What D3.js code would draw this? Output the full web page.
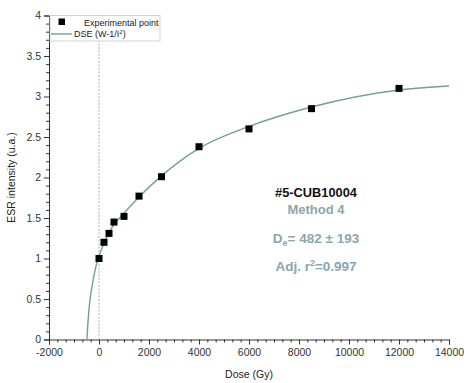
<!DOCTYPE html>
<html>
<head>
<meta charset="utf-8">
<script src="https://cdn.jsdelivr.net/npm/d3@7"></script>
<style>
  body { margin: 0; background: #fff; }
  text { font-family: "Liberation Sans", Arial, sans-serif; }
</style>
</head>
<body>
<div id="chart"></div>
<script>
// experimental points
var doses = [0, 200, 400, 600, 1000, 1600, 2500, 4000, 6000, 8500, 12000];
var intensities = [1.0, 1.20, 1.31, 1.45, 1.52, 1.77, 2.01, 2.38, 2.60, 2.85, 3.10];

// fitted DSE curve
var fitDoses = [-482, -455, -420, -360, -253, -133, 0, 200, 400, 600, 1000, 1600, 2500, 4000, 6000, 8500, 12000, 14000];
var fitValues = [0, 0.15, 0.30, 0.49, 0.70, 0.89, 1.03, 1.19, 1.32, 1.42, 1.56, 1.76, 2.02, 2.36, 2.63, 2.87, 3.08, 3.13];

var xTicks = [-2000, 0, 2000, 4000, 6000, 8000, 10000, 12000, 14000];
var yTicks = [0, 0.5, 1, 1.5, 2, 2.5, 3, 3.5, 4];

var svgWidth = 468, svgHeight = 383;
var margin = {top: 15.5, right: 19, bottom: 43.5, left: 49},
    width = svgWidth - margin.left - margin.right,
    height = svgHeight - margin.top - margin.bottom;

var svg = d3.select('#chart').append('svg')
    .attr('width', svgWidth)
    .attr('height', svgHeight);
var g = svg.append('g')
    .attr('transform', `translate(${margin.left}, ${margin.top})`);

var x = d3.scaleLinear().domain([-2000, 14000]).range([0, width]);
var y = d3.scaleLinear().domain([0, 4]).range([height, 0]);

var axisColor = '#333';
var fitColor = '#6e9fa3';
var noteColor = '#8aa6b0';

// minor ticks
var xMinor = d3.range(-2000, 14001, 2000 / 6).filter(d => Math.abs(d / 2000 - Math.round(d / 2000)) > 1e-6);
var yMinor = d3.range(0, 4.001, 0.1).filter(d => Math.abs(d * 2 - Math.round(d * 2)) > 1e-6);

var xMinorAxis = g.append('g')
    .attr('transform', `translate(0, ${height})`)
    .call(d3.axisBottom(x).tickValues(xMinor).tickSize(3).tickFormat(''));
var yMinorAxis = g.append('g')
    .call(d3.axisLeft(y).tickValues(yMinor).tickSize(3).tickFormat(''));

var xAxis = g.append('g')
    .attr('transform', `translate(0, ${height})`)
    .call(d3.axisBottom(x).tickValues(xTicks).tickSize(5).tickPadding(4).tickFormat(d => String(d)));
var yAxis = g.append('g')
    .call(d3.axisLeft(y).tickValues(yTicks).tickSize(5).tickPadding(3).tickFormat(d => String(d)));

[xMinorAxis, yMinorAxis, xAxis, yAxis].forEach(function(a) {
    a.selectAll('path').attr('stroke', axisColor).attr('stroke-width', 1);
    a.selectAll('line').attr('stroke', axisColor);
    a.selectAll('text').attr('fill', '#333').attr('font-size', '10.5px')
        .style('font-family', '"Liberation Sans", Arial, sans-serif');
});
xMinorAxis.select('path').remove();
yMinorAxis.select('path').remove();

// dashed line at zero dose
g.append('line')
    .attr('x1', x(0)).attr('x2', x(0))
    .attr('y1', 0).attr('y2', height)
    .attr('stroke', '#999')
    .attr('stroke-width', 0.8)
    .attr('stroke-dasharray', '2,1.5');

// fitted curve
var line = d3.line()
    .x(d => x(d[0]))
    .y(d => y(d[1]))
    .curve(d3.curveMonotoneX);
g.append('path')
    .datum(d3.zip(fitDoses, fitValues))
    .attr('fill', 'none')
    .attr('stroke', fitColor)
    .attr('stroke-width', 1.4)
    .attr('d', line);

// points
var s = 7;
g.selectAll('.pt')
    .data(d3.zip(doses, intensities))
    .enter()
    .append('rect')
    .classed('pt', true)
    .attr('x', d => x(d[0]) - s / 2)
    .attr('y', d => y(d[1]) - s / 2)
    .attr('width', s)
    .attr('height', s)
    .attr('fill', '#000');

// legend
var legend = g.append('g');
legend.append('rect')
    .attr('x', 1).attr('y', 0)
    .attr('width', 110).attr('height', 25.5)
    .attr('fill', '#fff')
    .attr('stroke', '#c8c8c8')
    .attr('stroke-width', 0.8);
legend.append('rect')
    .attr('x', 9.5).attr('y', 3)
    .attr('width', 6.5).attr('height', 6.5)
    .attr('fill', '#000');
legend.append('text')
    .attr('x', 35).attr('y', 10)
    .attr('font-size', '9px').attr('fill', '#222')
    .text('Experimental point');
legend.append('line')
    .attr('x1', 2).attr('x2', 23)
    .attr('y1', 18.5).attr('y2', 18.5)
    .attr('stroke', fitColor)
    .attr('stroke-width', 1.4);
var dse = legend.append('text')
    .attr('x', 25).attr('y', 21.5)
    .attr('font-size', '9px').attr('fill', '#222');
dse.append('tspan').text('DSE (W-1/I');
dse.append('tspan').attr('font-size', '6px').attr('dy', -3.5).text('2');
dse.append('tspan').attr('dy', 3.5).text(')');

// annotation
var cx = 316 - margin.left;
g.append('text')
    .attr('x', cx).attr('y', 197 - margin.top)
    .attr('text-anchor', 'middle')
    .attr('font-size', '12.8px').attr('font-weight', 'bold').attr('fill', '#111')
    .text('#5-CUB10004');
g.append('text')
    .attr('x', cx).attr('y', 213.5 - margin.top)
    .attr('text-anchor', 'middle')
    .attr('font-size', '13px').attr('font-weight', 'bold').attr('fill', noteColor)
    .text('Method 4');
var de = g.append('text')
    .attr('x', cx).attr('y', 243 - margin.top)
    .attr('text-anchor', 'middle')
    .attr('font-size', '13.5px').attr('font-weight', 'bold').attr('fill', noteColor);
de.append('tspan').text('D');
de.append('tspan').attr('font-size', '9px').attr('dy', 3).text('e');
de.append('tspan').attr('dy', -3).text('= 482 \u00b1 193');
var r2 = g.append('text')
    .attr('x', cx).attr('y', 270.5 - margin.top)
    .attr('text-anchor', 'middle')
    .attr('font-size', '13.5px').attr('font-weight', 'bold').attr('fill', noteColor);
r2.append('tspan').text('Adj. r');
r2.append('tspan').attr('font-size', '9px').attr('dy', -4.5).text('2');
r2.append('tspan').attr('dy', 4.5).text('=0.997');

// axis titles
g.append('text')
    .attr('x', x(6000)).attr('y', height + 38.5)
    .attr('text-anchor', 'middle')
    .attr('font-size', '10.5px').attr('fill', '#222')
    .text('Dose (Gy)');
g.append('text')
    .attr('transform', `translate(${-34}, ${height / 2}) rotate(-90)`)
    .attr('text-anchor', 'middle')
    .attr('font-size', '10.5px').attr('fill', '#222')
    .text('ESR intensity (u.a.)');
</script>
</body>
</html>
